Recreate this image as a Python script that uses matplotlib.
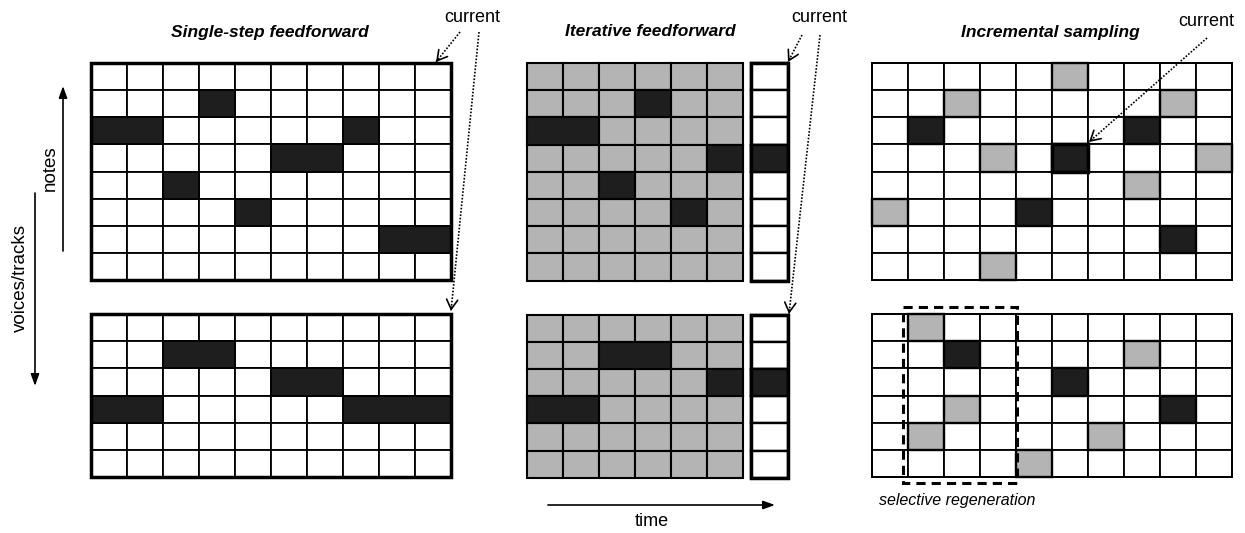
import matplotlib
matplotlib.use("Agg")
import matplotlib.pyplot as plt
from matplotlib.patches import Rectangle

plt.rcParams['font.family'] = ['Liberation Sans', 'DejaVu Sans']

# note events: (row, first column, length), rows counted from the top
single_top = [(1, 3, 1), (2, 0, 2), (2, 7, 1), (3, 5, 2), (4, 2, 1), (5, 4, 1), (6, 8, 2)]
single_bottom = [(1, 2, 2), (2, 5, 2), (3, 0, 2), (3, 7, 3)]

iter_top = [(1, 3, 1), (2, 0, 2), (3, 5, 1), (4, 2, 1), (5, 4, 1)]
iter_top_current = [3]
iter_bottom = [(1, 2, 2), (2, 5, 1), (3, 0, 2)]
iter_bottom_current = [2]

incr_top_black = [(2, 1), (2, 7), (3, 5), (5, 4), (6, 8)]
incr_top_gray = [(0, 5), (1, 2), (1, 8), (3, 3), (3, 9), (4, 7), (5, 0), (7, 3)]
incr_current = (3, 5)
incr_bottom_black = [(1, 2), (2, 5), (3, 8)]
incr_bottom_gray = [(0, 1), (1, 7), (3, 2), (4, 1), (4, 6), (5, 4)]

titles = ["Single-step feedforward", "Iterative feedforward", "Incremental sampling"]

BLACK = '#1e1e1e'
GRAY = '#b4b4b4'
CW = 36.0
CH = 27.2

fig = plt.figure(figsize=(12.45, 5.33), dpi=100)
ax = fig.add_axes([0, 0, 1, 1])
ax.set_xlim(0, 1245)
ax.set_ylim(533, 0)
ax.axis('off')


def grid(x0, y0, ncols, nrows, base, lw=1.3, cw=CW):
    for r in range(nrows):
        for c in range(ncols):
            ax.add_patch(Rectangle((x0 + c * cw, y0 + r * CH), cw, CH,
                                   facecolor=base, edgecolor='black', lw=lw))


def mark(x0, y0, r, c, n, color, lw=1.3, cw=CW):
    ax.add_patch(Rectangle((x0 + c * cw, y0 + r * CH), n * cw, CH,
                           facecolor=color, edgecolor='black', lw=lw, zorder=3))


def border(x0, y0, w, h, lw):
    ax.add_patch(Rectangle((x0, y0), w, h, fill=False, edgecolor='black',
                           lw=lw, zorder=5))


def pointer(start, end):
    ax.plot([start[0], end[0]], [start[1], end[1]], color='black',
            ls=(0, (1, 1)), lw=1.2, zorder=6)
    dx, dy = end[0] - start[0], end[1] - start[1]
    d = (dx ** 2 + dy ** 2) ** 0.5
    back = (end[0] - dx / d * 4, end[1] - dy / d * 4)
    ax.annotate('', xy=end, xytext=back, zorder=7,
                arrowprops=dict(arrowstyle='->,head_length=0.7,head_width=0.4',
                                color='black', lw=1.2, shrinkA=0, shrinkB=0))


# single-step feedforward
for y0, nrows, events in [(62.7, 8, single_top), (314, 6, single_bottom)]:
    x0 = 90.5
    grid(x0, y0, 10, nrows, 'white')
    for r, c, n in events:
        mark(x0, y0, r, c, n, BLACK)
    border(x0, y0, 10 * CW, nrows * CH, 2.5)

# iterative feedforward
for y0, nrows, events, cur in [(63.0, 8, iter_top, iter_top_current),
                               (314.5, 6, iter_bottom, iter_bottom_current)]:
    x0 = 526.7
    grid(x0, y0, 6, nrows, GRAY, lw=1.5)
    for r, c, n in events:
        mark(x0, y0, r, c, n, BLACK, lw=1.5)
    cx = 751.0
    grid(cx, y0, 1, nrows, 'white', lw=1.7, cw=37)
    for r in cur:
        mark(cx, y0, r, 0, 1, BLACK, lw=1.7, cw=37)
    border(cx, y0, 37, nrows * CH, 2.5)

# incremental sampling
for y0, nrows, blacks, grays in [(62.7, 8, incr_top_black, incr_top_gray),
                                 (314, 6, incr_bottom_black, incr_bottom_gray)]:
    x0 = 872.0
    grid(x0, y0, 10, nrows, 'white')
    for r, c in grays:
        mark(x0, y0, r, c, 1, GRAY, lw=1.7)
    for r, c in blacks:
        mark(x0, y0, r, c, 1, BLACK, lw=1.7)
    border(x0, y0, 10 * CW, nrows * CH, 1.4)
r, c = incr_current
border(872.0 + c * CW, 62.7 + r * CH, CW, CH, 2.5)

# selective regeneration box
ax.add_patch(Rectangle((903, 307), 114, 176, fill=False, edgecolor='black',
                       lw=2.2, ls=(0, (3, 2)), zorder=8))
ax.text(879, 500, "selective regeneration", fontsize=11.5, style='italic',
        ha='left', va='center')

# titles
for x, t in zip([270, 650, 1050], titles):
    ax.text(x, 32, t, fontsize=12.5, fontweight='bold', style='italic',
            ha='center', va='center')

# "current" labels and pointers
for x, y in [(472, 18), (819, 18), (1206, 22)]:
    ax.text(x, y, "current", fontsize=13, ha='center', va='center')
pointer((460, 32), (436, 62))
pointer((479, 32), (451, 311))
pointer((802, 35), (788, 62))
pointer((820, 35), (789, 314))
pointer((1207, 38), (1089, 142))

# axis arrows
ax.annotate('', xy=(63, 86), xytext=(63, 251),
            arrowprops=dict(arrowstyle='-|>,head_length=0.7,head_width=0.25',
                            color='black', lw=1.2, shrinkA=0, shrinkB=0))
ax.text(50, 168, "notes", fontsize=13.5, rotation=90, ha='center', va='center')
ax.annotate('', xy=(35, 386), xytext=(35, 193),
            arrowprops=dict(arrowstyle='-|>,head_length=0.7,head_width=0.25',
                            color='black', lw=1.2, shrinkA=0, shrinkB=0))
ax.text(20, 278, "voices/tracks", fontsize=13.5, rotation=90, ha='center', va='center')
ax.annotate('', xy=(775, 505), xytext=(548, 505),
            arrowprops=dict(arrowstyle='-|>,head_length=0.7,head_width=0.25',
                            color='black', lw=1.2, shrinkA=0, shrinkB=0))
ax.text(652, 522, "time", fontsize=13, ha='center', va='center')

fig.savefig("out.png", dpi=100)
